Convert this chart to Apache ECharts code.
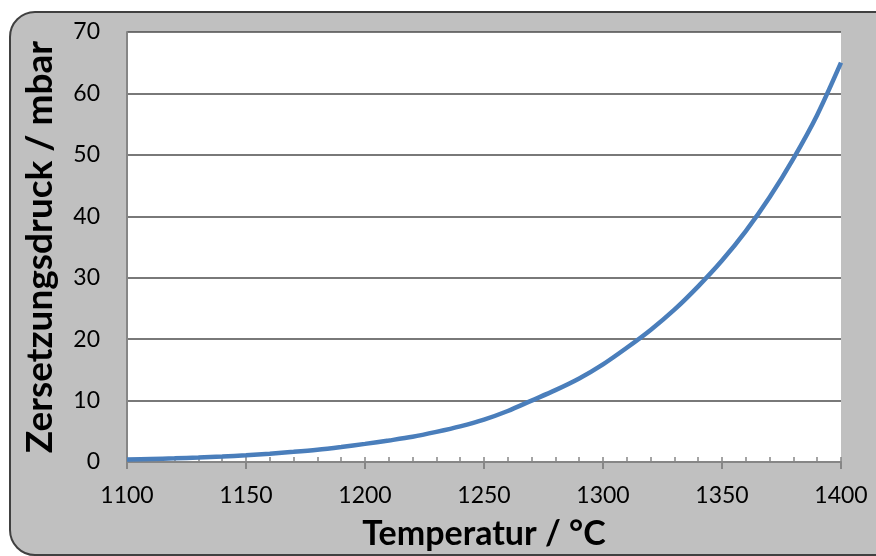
<!DOCTYPE html>
<html>
<head>
<meta charset="utf-8">
<script src="https://cdn.jsdelivr.net/npm/echarts@6/dist/echarts.min.js"></script>
<style>
  html, body { margin: 0; padding: 0; background: #ffffff; }
  #chart { width: 876px; height: 556px; }
</style>
</head>
<body>
<div id="chart"></div>
<script>
// Temperatur in °C
const temperatures = [1100, 1110, 1120, 1130, 1140, 1150, 1160, 1170, 1180, 1190,
                      1200, 1210, 1220, 1230, 1240, 1250, 1260, 1270, 1280, 1290,
                      1300, 1310, 1320, 1330, 1340, 1350, 1360, 1370, 1380, 1390, 1400];
// Zersetzungsdruck in mbar
const pressures = [0.4, 0.5, 0.6, 0.74, 0.9, 1.1, 1.35, 1.65, 2.0, 2.45,
                   2.95, 3.5, 4.1, 4.9, 5.8, 6.9, 8.3, 10.0, 11.7, 13.6,
                   15.9, 18.6, 21.5, 24.8, 28.6, 32.8, 37.6, 43.1, 49.4, 56.5, 65.0];

const xTitle = 'Temperatur / °C';
const yTitle = 'Zersetzungsdruck / mbar';

const FONT = 'Lato, "Open Sans", sans-serif';

const chart = echarts.init(document.getElementById('chart'), null, { renderer: 'canvas' });

chart.setOption({
  animation: false,
  backgroundColor: '#ffffff',
  graphic: [{
    type: 'rect',
    z: -10,
    silent: true,
    shape: { x: 10, y: 12, width: 890, height: 543, r: 25 },
    style: { fill: '#c0c0c0', stroke: '#404040', lineWidth: 2 }
  }],
  grid: {
    left: 127, right: 35, top: 32, bottom: 91,
    show: true, backgroundColor: '#ffffff', borderWidth: 0
  },
  xAxis: [{
    type: 'value',
    min: 1100, max: 1400, interval: 50,
    name: xTitle,
    nameLocation: 'middle',
    nameGap: 55,
    nameTextStyle: { fontFamily: FONT, fontWeight: 'bold', fontSize: 34, color: '#000000' },
    axisLine: { show: true, onZero: false, lineStyle: { color: '#868686', width: 2 } },
    axisTick: { show: true, inside: false, length: 7, lineStyle: { color: '#868686', width: 2 } },
    axisLabel: {
      fontFamily: FONT, fontSize: 23, color: '#000000', margin: 22,
      formatter: v => String(v)
    },
    splitLine: { show: false }
  }, {
    // minor ticks every 10 °C, pointing into the plot
    type: 'value',
    position: 'bottom',
    min: 1100, max: 1400, interval: 10,
    axisLine: { show: false },
    axisTick: { show: true, inside: true, length: 5, lineStyle: { color: '#868686', width: 1.5 } },
    axisLabel: { show: false },
    splitLine: { show: false }
  }],
  yAxis: {
    type: 'value',
    min: 0, max: 70, interval: 10,
    name: yTitle,
    nameLocation: 'middle',
    nameGap: 68,
    nameTextStyle: { fontFamily: FONT, fontWeight: 'bold', fontSize: 37, color: '#000000' },
    axisLine: { show: true, lineStyle: { color: '#868686', width: 2 } },
    axisTick: { show: false },
    axisLabel: { fontFamily: FONT, fontSize: 23, color: '#000000', margin: 27 },
    splitLine: { show: true, lineStyle: { color: '#4d4d4d', width: 1.5 } }
  },
  series: [{
    type: 'line',
    xAxisIndex: 0,
    data: temperatures.map((t, i) => [t, pressures[i]]),
    smooth: 0.3,
    showSymbol: false,
    clip: true,
    lineStyle: { color: '#4a7ebb', width: 4.5 },
    z: 5
  }]
});
</script>
</body>
</html>
